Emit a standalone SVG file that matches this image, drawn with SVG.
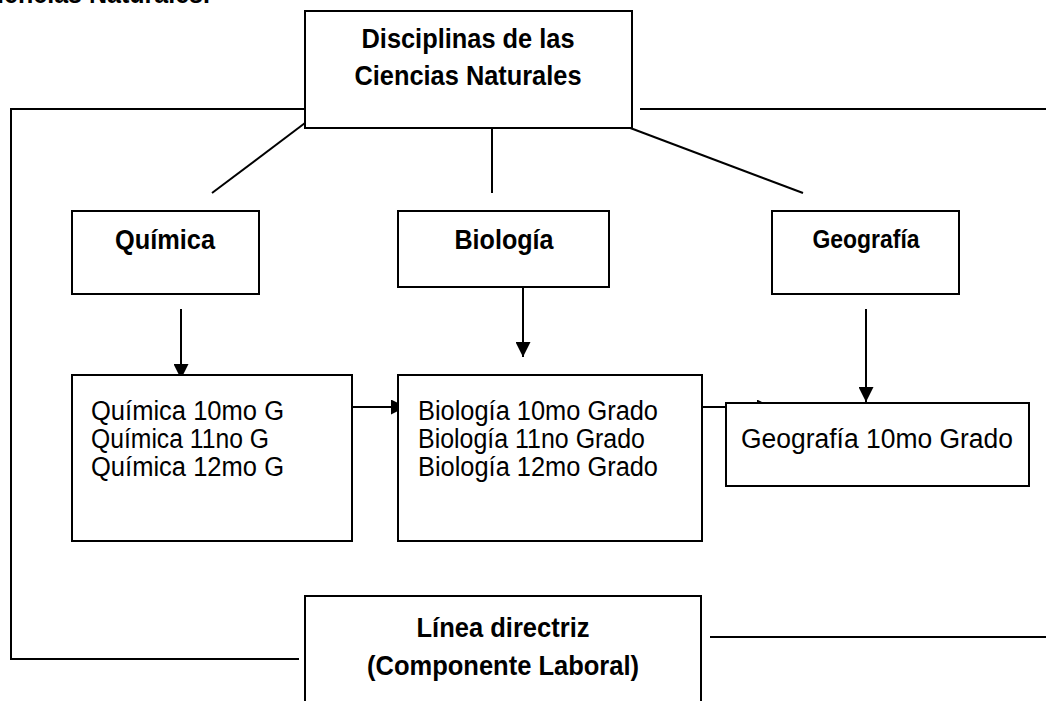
<svg xmlns="http://www.w3.org/2000/svg" width="1046" height="701" viewBox="0 0 1046 701">
<defs>
<style>
.box{fill:#fff;stroke:#000;stroke-width:2}
.ln{fill:none;stroke:#000;stroke-width:2}
.tb{font-family:"Liberation Sans",Arial,sans-serif;font-weight:bold;font-size:28px;fill:#000;text-anchor:middle}
.tr{font-family:"Liberation Sans",Arial,sans-serif;font-size:27px;fill:#000}
</style>
<marker id="ah" markerWidth="15" markerHeight="15" refX="15" refY="7.5" orient="auto" markerUnits="userSpaceOnUse">
<path d="M0,0 L15,7.5 L0,15 Z" fill="#000"/>
</marker>
</defs>
<rect width="1046" height="701" fill="#fff"/>
<text class="tb" x="210" y="3" style="text-anchor:end" textLength="231" lengthAdjust="spacingAndGlyphs">Ciencias Naturales.</text>
<g id="connectors">
<polyline class="ln" points="314,109 11,109 11,659 299,659"/>
<line class="ln" x1="640" y1="109" x2="1046" y2="109"/>
<line class="ln" x1="710" y1="637" x2="1046" y2="637"/>
<line class="ln" x1="305" y1="123" x2="212" y2="193"/>
<line class="ln" x1="492" y1="123" x2="492" y2="193"/>
<line class="ln" x1="617" y1="123" x2="803" y2="193"/>
<line class="ln" x1="181" y1="309" x2="181" y2="379" marker-end="url(#ah)"/>
<line class="ln" x1="523" y1="287" x2="523" y2="357" marker-end="url(#ah)"/>
<line class="ln" x1="866" y1="309" x2="866" y2="402" marker-end="url(#ah)"/>
<line class="ln" x1="352" y1="407" x2="406" y2="407" marker-end="url(#ah)"/>
<line class="ln" x1="702" y1="407" x2="772" y2="407" marker-end="url(#ah)"/>
</g>
<g id="top">
<rect class="box" x="305" y="11" width="327" height="117"/>
<text class="tb" x="468" y="48" textLength="213" lengthAdjust="spacingAndGlyphs">Disciplinas de las</text>
<text class="tb" x="468" y="85" textLength="227" lengthAdjust="spacingAndGlyphs">Ciencias Naturales</text>
</g>
<g id="quimica">
<rect class="box" x="72" y="211" width="187" height="83"/>
<text class="tb" x="165" y="249" textLength="100" lengthAdjust="spacingAndGlyphs">Química</text>
</g>
<g id="biologia">
<rect class="box" x="398" y="211" width="211" height="76"/>
<text class="tb" x="504" y="249" textLength="99" lengthAdjust="spacingAndGlyphs">Biología</text>
</g>
<g id="geografia">
<rect class="box" x="772" y="211" width="187" height="83"/>
<text class="tb" x="866" y="248" style="font-size:25px" textLength="107" lengthAdjust="spacingAndGlyphs">Geografía</text>
</g>
<g id="quimica-grados">
<rect class="box" x="72" y="375" width="280" height="166"/>
<text class="tr" x="91" y="420" textLength="193" lengthAdjust="spacingAndGlyphs">Química 10mo G</text>
<text class="tr" x="91" y="448" textLength="178" lengthAdjust="spacingAndGlyphs">Química 11no G</text>
<text class="tr" x="91" y="476" textLength="193" lengthAdjust="spacingAndGlyphs">Química 12mo G</text>
</g>
<g id="biologia-grados">
<rect class="box" x="398" y="375" width="304" height="166"/>
<text class="tr" x="418" y="420" textLength="240" lengthAdjust="spacingAndGlyphs">Biología 10mo Grado</text>
<text class="tr" x="418" y="448" textLength="227" lengthAdjust="spacingAndGlyphs">Biología 11no Grado</text>
<text class="tr" x="418" y="476" textLength="240" lengthAdjust="spacingAndGlyphs">Biología 12mo Grado</text>
</g>
<g id="geografia-grados">
<rect class="box" x="726" y="403" width="303" height="83"/>
<text class="tr" x="741" y="448" textLength="272" lengthAdjust="spacingAndGlyphs">Geografía 10mo Grado</text>
</g>
<g id="linea-directriz">
<rect class="box" x="305" y="596" width="396" height="115"/>
<text class="tb" x="503" y="637" textLength="173" lengthAdjust="spacingAndGlyphs">Línea directriz</text>
<text class="tb" x="503" y="675" textLength="272" lengthAdjust="spacingAndGlyphs">(Componente Laboral)</text>
</g>
</svg>
